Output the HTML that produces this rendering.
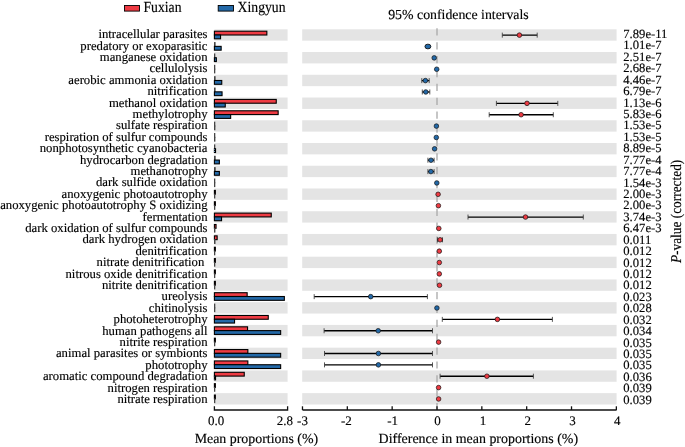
<!DOCTYPE html><html><head><meta charset="utf-8"><style>html,body{margin:0;padding:0;background:#fff;width:685px;height:447px;overflow:hidden}svg{display:block}text{font-family:"Liberation Serif",serif;fill:#000;text-rendering:geometricPrecision;stroke:#000;stroke-width:0.15px}svg{filter:blur(0.3px)}</style></head><body>
<svg width="685" height="447" viewBox="0 0 685 447">
<rect x="214.40" y="29.30" width="73.20" height="11.37" fill="#E4E4E4"/>
<rect x="302.20" y="29.30" width="314.40" height="11.37" fill="#E4E4E4"/>
<rect x="214.40" y="52.04" width="73.20" height="11.37" fill="#E4E4E4"/>
<rect x="302.20" y="52.04" width="314.40" height="11.37" fill="#E4E4E4"/>
<rect x="214.40" y="74.78" width="73.20" height="11.37" fill="#E4E4E4"/>
<rect x="302.20" y="74.78" width="314.40" height="11.37" fill="#E4E4E4"/>
<rect x="214.40" y="97.52" width="73.20" height="11.37" fill="#E4E4E4"/>
<rect x="302.20" y="97.52" width="314.40" height="11.37" fill="#E4E4E4"/>
<rect x="214.40" y="120.26" width="73.20" height="11.37" fill="#E4E4E4"/>
<rect x="302.20" y="120.26" width="314.40" height="11.37" fill="#E4E4E4"/>
<rect x="214.40" y="143.00" width="73.20" height="11.37" fill="#E4E4E4"/>
<rect x="302.20" y="143.00" width="314.40" height="11.37" fill="#E4E4E4"/>
<rect x="214.40" y="165.74" width="73.20" height="11.37" fill="#E4E4E4"/>
<rect x="302.20" y="165.74" width="314.40" height="11.37" fill="#E4E4E4"/>
<rect x="214.40" y="188.48" width="73.20" height="11.37" fill="#E4E4E4"/>
<rect x="302.20" y="188.48" width="314.40" height="11.37" fill="#E4E4E4"/>
<rect x="214.40" y="211.22" width="73.20" height="11.37" fill="#E4E4E4"/>
<rect x="302.20" y="211.22" width="314.40" height="11.37" fill="#E4E4E4"/>
<rect x="214.40" y="233.96" width="73.20" height="11.37" fill="#E4E4E4"/>
<rect x="302.20" y="233.96" width="314.40" height="11.37" fill="#E4E4E4"/>
<rect x="214.40" y="256.70" width="73.20" height="11.37" fill="#E4E4E4"/>
<rect x="302.20" y="256.70" width="314.40" height="11.37" fill="#E4E4E4"/>
<rect x="214.40" y="279.44" width="73.20" height="11.37" fill="#E4E4E4"/>
<rect x="302.20" y="279.44" width="314.40" height="11.37" fill="#E4E4E4"/>
<rect x="214.40" y="302.18" width="73.20" height="11.37" fill="#E4E4E4"/>
<rect x="302.20" y="302.18" width="314.40" height="11.37" fill="#E4E4E4"/>
<rect x="214.40" y="324.92" width="73.20" height="11.37" fill="#E4E4E4"/>
<rect x="302.20" y="324.92" width="314.40" height="11.37" fill="#E4E4E4"/>
<rect x="214.40" y="347.66" width="73.20" height="11.37" fill="#E4E4E4"/>
<rect x="302.20" y="347.66" width="314.40" height="11.37" fill="#E4E4E4"/>
<rect x="214.40" y="370.40" width="73.20" height="11.37" fill="#E4E4E4"/>
<rect x="302.20" y="370.40" width="314.40" height="11.37" fill="#E4E4E4"/>
<rect x="214.40" y="393.14" width="73.20" height="11.37" fill="#E4E4E4"/>
<rect x="302.20" y="393.14" width="314.40" height="11.37" fill="#E4E4E4"/>
<line x1="437.0" y1="28.3" x2="437.0" y2="410" stroke="#A8A8A8" stroke-width="1.3" stroke-dasharray="7.2 6.68"/>
<rect x="214.40" y="31.20" width="52.45" height="3.80" fill="#EE3B43" stroke="#000" stroke-width="1.1"/>
<rect x="214.40" y="35.00" width="6.15" height="3.80" fill="#2369A8" stroke="#000" stroke-width="1.1"/>
<rect x="214.00" y="42.07" width="1.60" height="4.80" fill="#454545"/>
<rect x="214.40" y="46.37" width="6.75" height="3.80" fill="#2369A8" stroke="#000" stroke-width="1.1"/>
<rect x="214.00" y="53.44" width="1.30" height="4.80" fill="#454545"/>
<rect x="214.40" y="57.74" width="1.95" height="3.80" fill="#2369A8" stroke="#000" stroke-width="1.1"/>
<rect x="214.00" y="64.81" width="1.30" height="4.80" fill="#454545"/>
<rect x="214.00" y="68.61" width="1.30" height="4.80" fill="#454545"/>
<rect x="214.00" y="76.18" width="1.60" height="4.80" fill="#454545"/>
<rect x="214.40" y="80.48" width="7.35" height="3.80" fill="#2369A8" stroke="#000" stroke-width="1.1"/>
<rect x="214.00" y="87.55" width="1.60" height="4.80" fill="#454545"/>
<rect x="214.40" y="91.85" width="7.65" height="3.80" fill="#2369A8" stroke="#000" stroke-width="1.1"/>
<rect x="214.40" y="99.42" width="61.85" height="3.80" fill="#EE3B43" stroke="#000" stroke-width="1.1"/>
<rect x="214.40" y="103.22" width="10.85" height="3.80" fill="#2369A8" stroke="#000" stroke-width="1.1"/>
<rect x="214.40" y="110.79" width="63.75" height="3.80" fill="#EE3B43" stroke="#000" stroke-width="1.1"/>
<rect x="214.40" y="114.59" width="16.25" height="3.80" fill="#2369A8" stroke="#000" stroke-width="1.1"/>
<rect x="214.00" y="121.66" width="1.30" height="4.80" fill="#454545"/>
<rect x="214.00" y="125.46" width="1.40" height="4.80" fill="#454545"/>
<rect x="214.00" y="133.03" width="1.30" height="4.80" fill="#454545"/>
<rect x="214.00" y="136.83" width="1.40" height="4.80" fill="#454545"/>
<rect x="214.00" y="144.40" width="1.30" height="4.80" fill="#454545"/>
<rect x="214.40" y="148.70" width="1.15" height="3.80" fill="#2369A8" stroke="#000" stroke-width="1.1"/>
<rect x="214.00" y="155.77" width="1.70" height="4.80" fill="#454545"/>
<rect x="214.40" y="160.07" width="4.95" height="3.80" fill="#2369A8" stroke="#000" stroke-width="1.1"/>
<rect x="214.00" y="167.14" width="1.70" height="4.80" fill="#454545"/>
<rect x="214.40" y="171.44" width="4.95" height="3.80" fill="#2369A8" stroke="#000" stroke-width="1.1"/>
<rect x="214.00" y="178.51" width="1.30" height="4.80" fill="#454545"/>
<rect x="214.00" y="182.31" width="1.30" height="4.80" fill="#454545"/>
<rect x="214.40" y="190.38" width="0.95" height="3.80" fill="#EE3B43" stroke="#000" stroke-width="1.1"/>
<rect x="214.00" y="193.68" width="1.30" height="4.80" fill="#454545"/>
<rect x="214.40" y="201.75" width="0.95" height="3.80" fill="#EE3B43" stroke="#000" stroke-width="1.1"/>
<rect x="214.00" y="205.05" width="1.30" height="4.80" fill="#454545"/>
<rect x="214.40" y="213.12" width="56.85" height="3.80" fill="#EE3B43" stroke="#000" stroke-width="1.1"/>
<rect x="214.40" y="216.92" width="7.15" height="3.80" fill="#2369A8" stroke="#000" stroke-width="1.1"/>
<rect x="214.40" y="224.49" width="1.65" height="3.80" fill="#EE3B43" stroke="#000" stroke-width="1.1"/>
<rect x="214.00" y="227.79" width="1.40" height="4.80" fill="#454545"/>
<rect x="214.40" y="235.86" width="2.75" height="3.80" fill="#EE3B43" stroke="#000" stroke-width="1.1"/>
<rect x="214.00" y="239.16" width="1.50" height="4.80" fill="#454545"/>
<rect x="214.40" y="247.23" width="0.95" height="3.80" fill="#EE3B43" stroke="#000" stroke-width="1.1"/>
<rect x="214.00" y="250.53" width="1.30" height="4.80" fill="#454545"/>
<rect x="214.40" y="258.60" width="0.95" height="3.80" fill="#EE3B43" stroke="#000" stroke-width="1.1"/>
<rect x="214.00" y="261.90" width="1.30" height="4.80" fill="#454545"/>
<rect x="214.40" y="269.97" width="0.95" height="3.80" fill="#EE3B43" stroke="#000" stroke-width="1.1"/>
<rect x="214.00" y="273.27" width="1.30" height="4.80" fill="#454545"/>
<rect x="214.40" y="281.34" width="0.95" height="3.80" fill="#EE3B43" stroke="#000" stroke-width="1.1"/>
<rect x="214.00" y="284.64" width="1.30" height="4.80" fill="#454545"/>
<rect x="214.40" y="292.71" width="32.75" height="3.80" fill="#EE3B43" stroke="#000" stroke-width="1.1"/>
<rect x="214.40" y="296.51" width="69.95" height="3.80" fill="#2369A8" stroke="#000" stroke-width="1.1"/>
<rect x="214.00" y="303.58" width="1.30" height="4.80" fill="#454545"/>
<rect x="214.00" y="307.38" width="1.30" height="4.80" fill="#454545"/>
<rect x="214.40" y="315.45" width="53.85" height="3.80" fill="#EE3B43" stroke="#000" stroke-width="1.1"/>
<rect x="214.40" y="319.25" width="20.15" height="3.80" fill="#2369A8" stroke="#000" stroke-width="1.1"/>
<rect x="214.40" y="326.82" width="33.15" height="3.80" fill="#EE3B43" stroke="#000" stroke-width="1.1"/>
<rect x="214.40" y="330.62" width="66.25" height="3.80" fill="#2369A8" stroke="#000" stroke-width="1.1"/>
<rect x="214.40" y="338.19" width="0.95" height="3.80" fill="#EE3B43" stroke="#000" stroke-width="1.1"/>
<rect x="214.00" y="341.49" width="1.30" height="4.80" fill="#454545"/>
<rect x="214.40" y="349.56" width="33.45" height="3.80" fill="#EE3B43" stroke="#000" stroke-width="1.1"/>
<rect x="214.40" y="353.36" width="66.25" height="3.80" fill="#2369A8" stroke="#000" stroke-width="1.1"/>
<rect x="214.40" y="360.93" width="33.45" height="3.80" fill="#EE3B43" stroke="#000" stroke-width="1.1"/>
<rect x="214.40" y="364.73" width="66.25" height="3.80" fill="#2369A8" stroke="#000" stroke-width="1.1"/>
<rect x="214.40" y="372.30" width="29.85" height="3.80" fill="#EE3B43" stroke="#000" stroke-width="1.1"/>
<rect x="214.40" y="376.10" width="1.15" height="3.80" fill="#2369A8" stroke="#000" stroke-width="1.1"/>
<rect x="214.40" y="383.67" width="0.95" height="3.80" fill="#EE3B43" stroke="#000" stroke-width="1.1"/>
<rect x="214.00" y="386.97" width="1.30" height="4.80" fill="#454545"/>
<rect x="214.40" y="395.04" width="0.95" height="3.80" fill="#EE3B43" stroke="#000" stroke-width="1.1"/>
<rect x="214.00" y="398.34" width="1.30" height="4.80" fill="#454545"/>
<text x="207.5" y="38.20" font-size="12.72" text-anchor="end">intracellular parasites</text>
<text x="207.5" y="49.60" font-size="12.72" text-anchor="end">predatory or exoparasitic</text>
<text x="207.5" y="61.00" font-size="12.72" text-anchor="end">manganese oxidation</text>
<text x="207.5" y="72.40" font-size="12.72" text-anchor="end">cellulolysis</text>
<text x="207.5" y="83.80" font-size="12.72" text-anchor="end">aerobic ammonia oxidation</text>
<text x="207.5" y="95.20" font-size="12.72" text-anchor="end">nitrification</text>
<text x="207.5" y="106.60" font-size="12.72" text-anchor="end">methanol oxidation</text>
<text x="207.5" y="118.00" font-size="12.72" text-anchor="end">methylotrophy</text>
<text x="207.5" y="129.40" font-size="12.72" text-anchor="end">sulfate respiration</text>
<text x="207.5" y="140.80" font-size="12.72" text-anchor="end">respiration of sulfur compounds</text>
<text x="207.5" y="152.20" font-size="12.72" text-anchor="end">nonphotosynthetic cyanobacteria</text>
<text x="207.5" y="163.60" font-size="12.72" text-anchor="end">hydrocarbon degradation</text>
<text x="207.5" y="175.00" font-size="12.72" text-anchor="end">methanotrophy</text>
<text x="207.5" y="186.40" font-size="12.72" text-anchor="end">dark sulfide oxidation</text>
<text x="207.5" y="197.80" font-size="12.72" text-anchor="end">anoxygenic photoautotrophy</text>
<text x="207.5" y="209.20" font-size="12.72" text-anchor="end">anoxygenic photoautotrophy S oxidizing</text>
<text x="207.5" y="220.60" font-size="12.72" text-anchor="end">fermentation</text>
<text x="207.5" y="232.00" font-size="12.72" text-anchor="end">dark oxidation of sulfur compounds</text>
<text x="207.5" y="243.40" font-size="12.72" text-anchor="end">dark hydrogen oxidation</text>
<text x="207.5" y="254.80" font-size="12.72" text-anchor="end">denitrification</text>
<text x="204.3" y="266.20" font-size="12.72" text-anchor="end">nitrate denitrification</text>
<text x="207.5" y="277.60" font-size="12.72" text-anchor="end">nitrous oxide denitrification</text>
<text x="207.5" y="289.00" font-size="12.72" text-anchor="end">nitrite denitrification</text>
<text x="207.5" y="300.40" font-size="12.72" text-anchor="end">ureolysis</text>
<text x="207.5" y="311.80" font-size="12.72" text-anchor="end">chitinolysis</text>
<text x="207.5" y="323.20" font-size="12.72" text-anchor="end">photoheterotrophy</text>
<text x="207.5" y="334.60" font-size="12.72" text-anchor="end">human pathogens all</text>
<text x="207.5" y="346.00" font-size="12.72" text-anchor="end">nitrite respiration</text>
<text x="207.5" y="357.40" font-size="12.72" text-anchor="end">animal parasites or symbionts</text>
<text x="207.5" y="368.80" font-size="12.72" text-anchor="end">phototrophy</text>
<text x="207.5" y="380.20" font-size="12.72" text-anchor="end">aromatic compound degradation</text>
<text x="207.5" y="391.60" font-size="12.72" text-anchor="end">nitrogen respiration</text>
<text x="207.5" y="403.00" font-size="12.72" text-anchor="end">nitrate respiration</text>
<text x="623.3" y="38.00" font-size="12.65">7.89e-11</text>
<text x="623.3" y="49.43" font-size="12.65">1.01e-7</text>
<text x="623.3" y="60.86" font-size="12.65">2.51e-7</text>
<text x="623.3" y="72.29" font-size="12.65">2.68e-7</text>
<text x="623.3" y="83.72" font-size="12.65">4.46e-7</text>
<text x="623.3" y="95.15" font-size="12.65">6.79e-7</text>
<text x="623.3" y="106.58" font-size="12.65">1.13e-6</text>
<text x="623.3" y="118.01" font-size="12.65">5.83e-6</text>
<text x="623.3" y="129.44" font-size="12.65">1.53e-5</text>
<text x="623.3" y="140.87" font-size="12.65">1.53e-5</text>
<text x="623.3" y="152.30" font-size="12.65">8.89e-5</text>
<text x="623.3" y="163.73" font-size="12.65">7.77e-4</text>
<text x="623.3" y="175.16" font-size="12.65">7.77e-4</text>
<text x="623.3" y="186.59" font-size="12.65">1.54e-3</text>
<text x="623.3" y="198.02" font-size="12.65">2.00e-3</text>
<text x="623.3" y="209.45" font-size="12.65">2.00e-3</text>
<text x="623.3" y="220.88" font-size="12.65">3.74e-3</text>
<text x="623.3" y="232.31" font-size="12.65">6.47e-3</text>
<text x="623.3" y="243.74" font-size="12.65">0.011</text>
<text x="623.3" y="255.17" font-size="12.65">0.012</text>
<text x="623.3" y="266.60" font-size="12.65">0.012</text>
<text x="623.3" y="278.03" font-size="12.65">0.012</text>
<text x="623.3" y="289.46" font-size="12.65">0.012</text>
<text x="623.3" y="300.89" font-size="12.65">0.023</text>
<text x="623.3" y="312.32" font-size="12.65">0.028</text>
<text x="623.3" y="323.75" font-size="12.65">0.032</text>
<text x="623.3" y="335.18" font-size="12.65">0.034</text>
<text x="623.3" y="346.61" font-size="12.65">0.035</text>
<text x="623.3" y="358.04" font-size="12.65">0.035</text>
<text x="623.3" y="369.47" font-size="12.65">0.035</text>
<text x="623.3" y="380.90" font-size="12.65">0.036</text>
<text x="623.3" y="392.33" font-size="12.65">0.039</text>
<text x="623.3" y="403.76" font-size="12.65">0.039</text>
<line x1="502.3" y1="35.13" x2="537.2" y2="35.13" stroke="#000" stroke-width="1.35"/>
<line x1="502.3" y1="32.63" x2="502.3" y2="37.63" stroke="#3a3a3a" stroke-width="0.85"/>
<line x1="537.2" y1="32.63" x2="537.2" y2="37.63" stroke="#3a3a3a" stroke-width="0.85"/>
<circle cx="519.4" cy="35.13" r="2.3" fill="#EE3B43" stroke="#111" stroke-width="0.7"/>
<ellipse cx="427.9" cy="46.51" rx="2.95" ry="2.35" fill="#2369A8" stroke="#111" stroke-width="0.9"/>
<circle cx="434.2" cy="57.88" r="2.3" fill="#2369A8" stroke="#111" stroke-width="0.7"/>
<circle cx="436.7" cy="69.25" r="2.3" fill="#2369A8" stroke="#111" stroke-width="0.7"/>
<line x1="421.8" y1="80.62" x2="429.2" y2="80.62" stroke="#000" stroke-width="1.35"/>
<line x1="421.8" y1="78.12" x2="421.8" y2="83.12" stroke="#3a3a3a" stroke-width="0.85"/>
<line x1="429.2" y1="78.12" x2="429.2" y2="83.12" stroke="#3a3a3a" stroke-width="0.85"/>
<circle cx="425.4" cy="80.62" r="2.3" fill="#2369A8" stroke="#111" stroke-width="0.7"/>
<line x1="422.3" y1="91.98" x2="429.8" y2="91.98" stroke="#000" stroke-width="1.35"/>
<line x1="422.3" y1="89.48" x2="422.3" y2="94.48" stroke="#3a3a3a" stroke-width="0.85"/>
<line x1="429.8" y1="89.48" x2="429.8" y2="94.48" stroke="#3a3a3a" stroke-width="0.85"/>
<circle cx="425.8" cy="91.98" r="2.3" fill="#2369A8" stroke="#111" stroke-width="0.7"/>
<line x1="496.4" y1="103.36" x2="557.8" y2="103.36" stroke="#000" stroke-width="1.35"/>
<line x1="496.4" y1="100.86" x2="496.4" y2="105.86" stroke="#3a3a3a" stroke-width="0.85"/>
<line x1="557.8" y1="100.86" x2="557.8" y2="105.86" stroke="#3a3a3a" stroke-width="0.85"/>
<circle cx="527.0" cy="103.36" r="2.3" fill="#EE3B43" stroke="#111" stroke-width="0.7"/>
<line x1="489.2" y1="114.72" x2="553.3" y2="114.72" stroke="#000" stroke-width="1.35"/>
<line x1="489.2" y1="112.22" x2="489.2" y2="117.22" stroke="#3a3a3a" stroke-width="0.85"/>
<line x1="553.3" y1="112.22" x2="553.3" y2="117.22" stroke="#3a3a3a" stroke-width="0.85"/>
<circle cx="521.1" cy="114.72" r="2.3" fill="#EE3B43" stroke="#111" stroke-width="0.7"/>
<circle cx="436.4" cy="126.09" r="2.3" fill="#2369A8" stroke="#111" stroke-width="0.7"/>
<circle cx="436.3" cy="137.47" r="2.3" fill="#2369A8" stroke="#111" stroke-width="0.7"/>
<circle cx="434.6" cy="148.84" r="2.3" fill="#2369A8" stroke="#111" stroke-width="0.7"/>
<line x1="427.9" y1="160.21" x2="434.1" y2="160.21" stroke="#000" stroke-width="1.35"/>
<line x1="427.9" y1="157.71" x2="427.9" y2="162.71" stroke="#3a3a3a" stroke-width="0.85"/>
<line x1="434.1" y1="157.71" x2="434.1" y2="162.71" stroke="#3a3a3a" stroke-width="0.85"/>
<circle cx="431.0" cy="160.21" r="2.3" fill="#2369A8" stroke="#111" stroke-width="0.7"/>
<line x1="427.9" y1="171.58" x2="434.1" y2="171.58" stroke="#000" stroke-width="1.35"/>
<line x1="427.9" y1="169.08" x2="427.9" y2="174.08" stroke="#3a3a3a" stroke-width="0.85"/>
<line x1="434.1" y1="169.08" x2="434.1" y2="174.08" stroke="#3a3a3a" stroke-width="0.85"/>
<circle cx="430.9" cy="171.58" r="2.3" fill="#2369A8" stroke="#111" stroke-width="0.7"/>
<circle cx="436.8" cy="182.95" r="2.3" fill="#2369A8" stroke="#111" stroke-width="0.7"/>
<circle cx="438.1" cy="194.31" r="2.3" fill="#EE3B43" stroke="#111" stroke-width="0.7"/>
<circle cx="438.4" cy="205.69" r="2.3" fill="#EE3B43" stroke="#111" stroke-width="0.7"/>
<line x1="468.0" y1="217.06" x2="583.3" y2="217.06" stroke="#000" stroke-width="1.35"/>
<line x1="468.0" y1="214.56" x2="468.0" y2="219.56" stroke="#3a3a3a" stroke-width="0.85"/>
<line x1="583.3" y1="214.56" x2="583.3" y2="219.56" stroke="#3a3a3a" stroke-width="0.85"/>
<circle cx="525.5" cy="217.06" r="2.3" fill="#EE3B43" stroke="#111" stroke-width="0.7"/>
<circle cx="438.8" cy="228.43" r="2.3" fill="#EE3B43" stroke="#111" stroke-width="0.7"/>
<line x1="437.5" y1="239.80" x2="442.5" y2="239.80" stroke="#000" stroke-width="1.35"/>
<line x1="437.5" y1="237.30" x2="437.5" y2="242.30" stroke="#3a3a3a" stroke-width="0.85"/>
<line x1="442.5" y1="237.30" x2="442.5" y2="242.30" stroke="#3a3a3a" stroke-width="0.85"/>
<circle cx="440.1" cy="239.80" r="2.3" fill="#EE3B43" stroke="#111" stroke-width="0.7"/>
<circle cx="439.3" cy="251.16" r="2.3" fill="#EE3B43" stroke="#111" stroke-width="0.7"/>
<circle cx="439.3" cy="262.53" r="2.3" fill="#EE3B43" stroke="#111" stroke-width="0.7"/>
<circle cx="439.3" cy="273.90" r="2.3" fill="#EE3B43" stroke="#111" stroke-width="0.7"/>
<circle cx="439.5" cy="285.27" r="2.3" fill="#EE3B43" stroke="#111" stroke-width="0.7"/>
<line x1="314.2" y1="296.64" x2="427.4" y2="296.64" stroke="#000" stroke-width="1.35"/>
<line x1="314.2" y1="294.14" x2="314.2" y2="299.14" stroke="#3a3a3a" stroke-width="0.85"/>
<line x1="427.4" y1="294.14" x2="427.4" y2="299.14" stroke="#3a3a3a" stroke-width="0.85"/>
<circle cx="370.7" cy="296.64" r="2.3" fill="#2369A8" stroke="#111" stroke-width="0.7"/>
<circle cx="436.9" cy="308.01" r="2.3" fill="#2369A8" stroke="#111" stroke-width="0.7"/>
<line x1="442.3" y1="319.38" x2="552.4" y2="319.38" stroke="#000" stroke-width="1.35"/>
<line x1="442.3" y1="316.88" x2="442.3" y2="321.88" stroke="#3a3a3a" stroke-width="0.85"/>
<line x1="552.4" y1="316.88" x2="552.4" y2="321.88" stroke="#3a3a3a" stroke-width="0.85"/>
<circle cx="497.4" cy="319.38" r="2.3" fill="#EE3B43" stroke="#111" stroke-width="0.7"/>
<line x1="324.1" y1="330.75" x2="432.5" y2="330.75" stroke="#000" stroke-width="1.35"/>
<line x1="324.1" y1="328.25" x2="324.1" y2="333.25" stroke="#3a3a3a" stroke-width="0.85"/>
<line x1="432.5" y1="328.25" x2="432.5" y2="333.25" stroke="#3a3a3a" stroke-width="0.85"/>
<circle cx="378.2" cy="330.75" r="2.3" fill="#2369A8" stroke="#111" stroke-width="0.7"/>
<circle cx="438.6" cy="342.12" r="2.3" fill="#EE3B43" stroke="#111" stroke-width="0.7"/>
<line x1="324.5" y1="353.49" x2="432.5" y2="353.49" stroke="#000" stroke-width="1.35"/>
<line x1="324.5" y1="350.99" x2="324.5" y2="355.99" stroke="#3a3a3a" stroke-width="0.85"/>
<line x1="432.5" y1="350.99" x2="432.5" y2="355.99" stroke="#3a3a3a" stroke-width="0.85"/>
<circle cx="378.4" cy="353.49" r="2.3" fill="#2369A8" stroke="#111" stroke-width="0.7"/>
<line x1="324.5" y1="364.86" x2="432.5" y2="364.86" stroke="#000" stroke-width="1.35"/>
<line x1="324.5" y1="362.36" x2="324.5" y2="367.36" stroke="#3a3a3a" stroke-width="0.85"/>
<line x1="432.5" y1="362.36" x2="432.5" y2="367.36" stroke="#3a3a3a" stroke-width="0.85"/>
<circle cx="378.4" cy="364.86" r="2.3" fill="#2369A8" stroke="#111" stroke-width="0.7"/>
<line x1="440.1" y1="376.23" x2="533.4" y2="376.23" stroke="#000" stroke-width="1.35"/>
<line x1="440.1" y1="373.73" x2="440.1" y2="378.73" stroke="#3a3a3a" stroke-width="0.85"/>
<line x1="533.4" y1="373.73" x2="533.4" y2="378.73" stroke="#3a3a3a" stroke-width="0.85"/>
<circle cx="486.9" cy="376.23" r="2.3" fill="#EE3B43" stroke="#111" stroke-width="0.7"/>
<circle cx="438.6" cy="387.60" r="2.3" fill="#EE3B43" stroke="#111" stroke-width="0.7"/>
<circle cx="438.6" cy="398.97" r="2.3" fill="#EE3B43" stroke="#111" stroke-width="0.7"/>
<path d="M214.4 406.3 V410.0 H287.6 V406.3" fill="none" stroke="#111" stroke-width="1.3"/>
<path d="M302.5 410.0 H616.6" fill="none" stroke="#111" stroke-width="1.3"/>
<line x1="302.48" y1="406.3" x2="302.48" y2="410.0" stroke="#111" stroke-width="1.3"/>
<text x="302.48" y="424.9" font-size="13.0" text-anchor="middle">-3</text>
<line x1="347.32" y1="406.3" x2="347.32" y2="410.0" stroke="#111" stroke-width="1.3"/>
<text x="346.32" y="424.9" font-size="13.0" text-anchor="middle">-2</text>
<line x1="392.16" y1="406.3" x2="392.16" y2="410.0" stroke="#111" stroke-width="1.3"/>
<text x="392.56" y="424.9" font-size="13.0" text-anchor="middle">-1</text>
<line x1="437.00" y1="406.3" x2="437.00" y2="410.0" stroke="#111" stroke-width="1.3"/>
<text x="437.50" y="424.9" font-size="13.0" text-anchor="middle">0</text>
<line x1="481.84" y1="406.3" x2="481.84" y2="410.0" stroke="#111" stroke-width="1.3"/>
<text x="482.94" y="424.9" font-size="13.0" text-anchor="middle">1</text>
<line x1="526.68" y1="406.3" x2="526.68" y2="410.0" stroke="#111" stroke-width="1.3"/>
<text x="527.78" y="424.9" font-size="13.0" text-anchor="middle">2</text>
<line x1="571.52" y1="406.3" x2="571.52" y2="410.0" stroke="#111" stroke-width="1.3"/>
<text x="572.62" y="424.9" font-size="13.0" text-anchor="middle">3</text>
<line x1="616.36" y1="406.3" x2="616.36" y2="410.0" stroke="#111" stroke-width="1.3"/>
<text x="617.36" y="424.9" font-size="13.0" text-anchor="middle">4</text>
<text x="216" y="424.9" font-size="13.0" text-anchor="middle">0.0</text>
<text x="284.8" y="424.9" font-size="13.0" text-anchor="middle">2.8</text>
<text x="194.7" y="442.7" font-size="13.9">Mean proportions (%)</text>
<text x="378.6" y="442.7" font-size="13.95">Difference in mean proportions (%)</text>
<text x="388.2" y="18.7" font-size="13.84">95% confidence intervals</text>
<rect x="124.5" y="5.5" width="15" height="5.6" fill="#EE3B43" stroke="#000" stroke-width="0.9"/>
<text transform="translate(143.5,11.5) scale(1,1.12)" font-size="13.7">Fuxian</text>
<rect x="218.2" y="5.5" width="15.3" height="5.6" fill="#2369A8" stroke="#000" stroke-width="0.9"/>
<text transform="translate(237.6,11.5) scale(1,1.12)" font-size="13.7">Xingyun</text>
<text transform="translate(681.2,263.1) rotate(-90) scale(1,1.12)" font-size="13.35"><tspan font-style="italic">P</tspan>-value (corrected)</text>
</svg></body></html>
